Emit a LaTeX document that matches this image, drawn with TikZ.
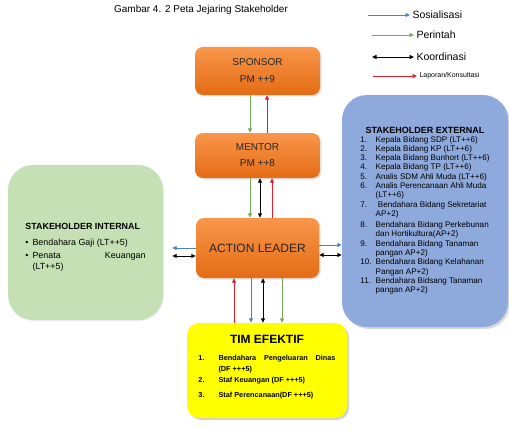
\documentclass[tikz,border=0pt]{standalone}
\usepackage{fontspec}
\setmainfont{Liberation Sans}
\usetikzlibrary{arrows.meta,shadows}

\definecolor{orangetop}{RGB}{249,150,75}
\definecolor{orangebot}{RGB}{228,108,20}
\definecolor{intgreen}{RGB}{197,224,180}
\definecolor{extblue}{RGB}{142,169,219}
\definecolor{timyellow}{RGB}{255,255,0}
\definecolor{arrblue}{RGB}{79,129,189}
\definecolor{arrgreen}{RGB}{112,168,85}
\definecolor{arrred}{RGB}{225,30,45}

\begin{document}
\begin{tikzpicture}[x=1pt,y=-1pt,
    orangebox/.style={rounded corners=8pt, top color=orangetop, bottom color=orangebot,
      text=black!85, align=center, inner sep=0pt,
      drop shadow={opacity=0.25, shadow xshift=1.5pt, shadow yshift=-1.5pt}},
    tipped/.style={line width=0.9pt, -{Triangle[length=4.5pt,width=4pt]}},
    both/.style={line width=0.9pt, {Triangle[length=4.5pt,width=4pt]}-{Triangle[length=4.5pt,width=4pt]}}]
    \useasboundingbox (0,0) rectangle (509,428);

    % Title
    \node (title) at (201,10) {\fontsize{10}{12}\selectfont Gambar 4. 2 Peta Jejaring Stakeholder};

    % Legend
    \node[anchor=west] (lsos) at (409,15) {\fontsize{10.5}{12}\selectfont Sosialisasi};
    \node[anchor=west] (lper) at (413,35) {\fontsize{10.5}{12}\selectfont Perintah};
    \node[anchor=west] (lkoo) at (413,57) {\fontsize{10.5}{12}\selectfont Koordinasi};
    \node[anchor=west] (llap) at (416,76) {\fontsize{7}{8}\selectfont Laporan/Konsultasi};
    \coordinate (sos0) at (368,15);
    \coordinate (per0) at (372,35);
    \coordinate (koo0) at (372,57);
    \coordinate (lap0) at (373,76);
    \draw[tipped, arrblue] (sos0) -- ([xshift=1pt]lsos.west);
    \draw[tipped, arrgreen] (per0) -- ([xshift=1pt]lper.west);
    \draw[both, black] (koo0) -- ([xshift=1pt]lkoo.west);
    \draw[tipped, arrred] (lap0) -- ([xshift=1pt]llap.west);

    % Orange boxes
    \node[orangebox, minimum width=125pt, minimum height=48pt] (sponsor) at (257.5,71)
      {\fontsize{10}{12}\selectfont SPONSOR\\[5pt]\fontsize{10}{12}\selectfont PM ++9};
    \node[orangebox, minimum width=125pt, minimum height=45pt] (mentor) at (257.5,155.5)
      {\fontsize{10}{12}\selectfont MENTOR\\[4pt]\fontsize{10}{12}\selectfont PM ++8};
    \node[orangebox, minimum width=123pt, minimum height=60pt] (al) at (257.5,248)
      {\fontsize{12}{14}\selectfont ACTION LEADER};

    % Stakeholder internal
    \node[rounded corners=25pt, fill=intgreen, minimum width=155pt, minimum height=155pt,
      drop shadow={opacity=0.15, shadow xshift=1pt, shadow yshift=-1pt}] (internal) at (85.5,242.5)
      {\fontsize{8.9}{12.5}\selectfont
       \begin{tabular}{@{}l@{\hspace{4pt}}p{113pt}@{}}
         \multicolumn{2}{@{}l@{}}{}\\[-4pt]
         \multicolumn{2}{@{}l@{}}{\textbf{STAKEHOLDER INTERNAL}}\\[4pt]
         \textbullet & Bendahara Gaji (LT++5)\\
         \textbullet & Penata\hfill Keuangan\\[-1pt]
                     & (LT++5)
       \end{tabular}};

    % Stakeholder external
    \node[rounded corners=25pt, fill=extblue, minimum width=166pt, minimum height=232pt,
      drop shadow={opacity=0.3, shadow xshift=2pt, shadow yshift=-2pt}] (external) at (425,211)
      {\fontsize{8.1}{9.2}\selectfont
       \begin{tabular}{@{}l@{\hspace{4pt}}l@{}}
         \multicolumn{2}{@{}c@{}}{\fontsize{9}{10}\selectfont\textbf{STAKEHOLDER EXTERNAL}}\\
         1. & Kepala Bidang SDP (LT++6)\\
         2. & Kepala Bidang KP (LT++6)\\
         3. & Kepala Bidang Bunhort (LT++6)\\
         4. & Kepala Bidang TP (LT++6)\\
         5. & Analis SDM Ahli Muda (LT++6)\\
         6. & Analis Perencanaan Ahli Muda\\
            & (LT++6)\\[1pt]
         7. & \ Bendahara Bidang Sekretariat\\
            & AP+2)\\[1pt]
         8. & Bendahara Bidang Perkebunan\\
            & dan Hortikultura(AP+2)\\[1pt]
         9. & Bendahara Bidang Tanaman\\
            & pangan AP+2)\\
         10. & Bendahara Bidang Kelahanan\\
             & Pangan AP+2)\\
         11. & Bendahara Bidsang Tanaman\\
             & pangan AP+2)
       \end{tabular}};

    % Tim efektif
    \node[rounded corners=12pt, fill=timyellow, minimum width=160pt, minimum height=95pt,
      drop shadow={opacity=0.35, shadow xshift=2pt, shadow yshift=-2pt}] (tim) at (267,370.5)
      {\fontsize{7.3}{11}\selectfont\bfseries
       \begin{tabular}{@{}l@{\hspace{14pt}}p{117pt}@{}}
         \multicolumn{2}{@{}c@{}}{\fontsize{12}{14}\selectfont TIM EFEKTIF}\\[6pt]
         1. & Bendahara\hfill Pengeluaran\hfill Dinas\\
            & (DF +++5)\\
         2. & Staf Keuangan (DF +++5)\\[4pt]
         3. & Staf Perencanaan(DF +++5)\\[4pt]
       \end{tabular}};

    % Sponsor - mentor
    \draw[tipped, arrgreen] ([xshift=-7.5pt]sponsor.south) -- ([xshift=-7.5pt]mentor.north);
    \draw[tipped, arrred] ([xshift=9.5pt]mentor.north) -- ([xshift=9.5pt]sponsor.south);

    % Mentor - action leader
    \draw[tipped, arrgreen] ([xshift=-7.5pt]mentor.south) -- ([xshift=-7.5pt]al.north);
    \draw[both, black] ([xshift=2.5pt]mentor.south) -- ([xshift=2.5pt]al.north);
    \draw[tipped, arrred] ([xshift=14.5pt]al.north) -- ([xshift=14.5pt]mentor.south);

    % Action leader - tim efektif
    \draw[tipped, arrred] ([xshift=-23.5pt]al.south |- tim.north) -- ([xshift=-23.5pt]al.south);
    \draw[tipped, arrblue] ([xshift=-6.5pt]al.south) -- ([xshift=-6.5pt]al.south |- tim.north);
    \draw[both, black] ([xshift=5.5pt]al.south) -- ([xshift=5.5pt]al.south |- tim.north);
    \draw[tipped, arrgreen] ([xshift=24.5pt]al.south) -- ([xshift=24.5pt]al.south |- tim.north);

    % Action leader - internal
    \draw[tipped, arrblue, shorten >=9pt] ([yshift=0pt]al.west) -- ([yshift=0pt]al.west -| internal.east);
    \draw[both, black, shorten >=9pt] ([yshift=-8pt]al.west) -- ([yshift=-8pt]al.west -| internal.east);

    % Action leader - external
    \draw[tipped, arrblue] ([yshift=3pt]al.east) -- ([yshift=3pt]al.east -| external.west);
    \draw[both, black] ([yshift=-7pt]al.east) -- ([yshift=-7pt]al.east -| external.west);
\end{tikzpicture}
\end{document}
